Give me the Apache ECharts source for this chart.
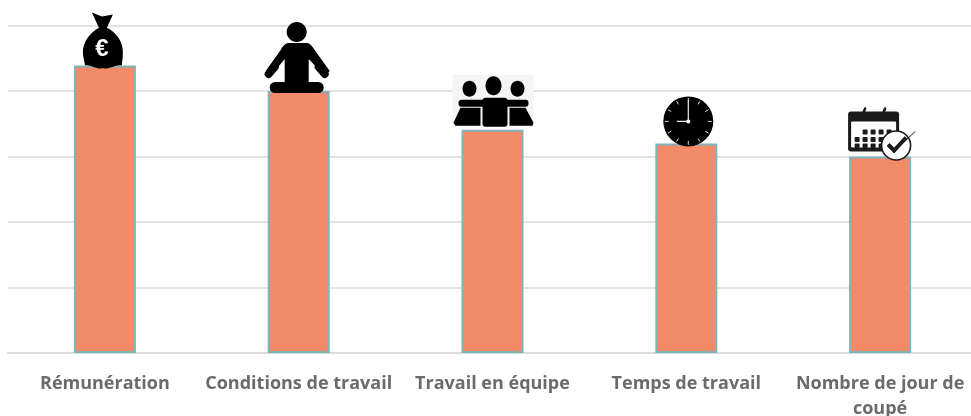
<!DOCTYPE html>
<html>
<head>
<meta charset="utf-8">
<style>
html, body { margin: 0; padding: 0; background: #fff; overflow: hidden; }
#main { width: 971px; height: 416px; }
</style>
<script src="https://cdn.jsdelivr.net/npm/echarts@6/dist/echarts.min.js"></script>
</head>
<body>
<div id="main"></div>
<script>
var categories = ['Rémunération', 'Conditions de travail', 'Travail en équipe', 'Temps de travail', 'Nombre de jour de\ncoupé'];
var values = [4.39, 4.0, 3.41, 3.2, 3.0];
var tickMax = 5;

var black = '#000';
var white = '#fff';

function path(d, x, y, w, h, fill) {
    return { type: 'path', shape: { pathData: d, x: x, y: y, width: w, height: h, layout: 'cover' }, style: { fill: fill || black } };
}
function ellipse(cx, cy, rx, ry) {
    return { type: 'ellipse', shape: { cx: cx, cy: cy, rx: rx, ry: ry }, style: { fill: black } };
}
function rect(x, y, w, h, r, fill) {
    return { type: 'rect', shape: { x: x, y: y, width: w, height: h, r: r }, style: { fill: fill || black } };
}
function line(x1, y1, x2, y2, color, width) {
    return { type: 'line', shape: { x1: x1, y1: y1, x2: x2, y2: y2 }, style: { stroke: color, lineWidth: width, lineCap: 'round' } };
}

// icons are drawn relative to the top centre of each bar
function bagIcon() {
    return [
        path('M-13,-53 L-3,-49 L8,-51 L2,-38 C12,-33 18,-24 18,-14 C18,-8 17,-4 17,-1 C10,-2 5,3 -2,2 C-9,3 -14,-2 -20,-1 C-20,-4 -22,-8 -22,-14 C-22,-24 -15,-33 -6,-38 Z', -22, -53, 40, 56),
        { type: 'text', style: { text: '€', x: -3, y: -16, fill: white, font: 'bold 24px "Liberation Sans"', align: 'center', verticalAlign: 'middle' } }
    ];
}
function personIcon() {
    return [
        ellipse(-2, -59, 10, 10),
        path('M-11,-48 L9,-48 C12,-47 14,-44 16,-41 L31,-20 L26,-15 L10,-32 L10,-6 L-14,-6 L-14,-32 L-28,-15 L-33,-20 L-18,-41 C-16,-45 -14,-47 -11,-48 Z', -33, -48, 64, 42),
        line(-30, -17, -24, -24, black, 8),
        line(26, -17, 20, -24, black, 8),
        rect(-29, -9, 54, 11, 5.5)
    ];
}
function teamIcon() {
    return [
        rect(-40, -55, 81, 52, 0, '#f5f5f5'),
        ellipse(-23, -41, 7, 8),
        ellipse(1, -44, 8, 9.5),
        ellipse(25, -41, 7, 8),
        rect(-10, -32, 25, 29, 3),
        rect(-34, -30, 70, 7, 3),
        { type: 'polygon', shape: { points: [[-32, -22], [-12, -22], [-12, -4], [-37, -4], [-39, -7]] }, style: { fill: black } },
        { type: 'polygon', shape: { points: [[33, -22], [17, -22], [17, -4], [40, -4], [41, -7]] }, style: { fill: black } }
    ];
}
function clockIcon() {
    var parts = [{ type: 'circle', shape: { cx: 2, cy: -22, r: 25 }, style: { fill: black } }];
    for (var i = 0; i < 12; i++) {
        var a = i * Math.PI / 6;
        parts.push(line(2 + Math.sin(a) * 20, -22 - Math.cos(a) * 20, 2 + Math.sin(a) * 23, -22 - Math.cos(a) * 23, '#ddd', 1));
    }
    parts.push(line(2, -22, 2, -43, '#eee', 1.2));
    parts.push(line(2, -22, -9, -22, '#eee', 1.2));
    parts.push({ type: 'circle', shape: { cx: 2, cy: -22, r: 2 }, style: { fill: white } });
    return parts;
}
function calendarIcon() {
    var parts = [
        rect(-32, -45, 51, 40, 3, '#1a1a1a'),
        rect(-29, -35, 45, 26, 1, white),
        line(-15, -48, -17, -43, '#1a1a1a', 2.5),
        line(5, -48, 3, -43, '#1a1a1a', 2.5)
    ];
    var rows = [[-24.5, [-15, -7, 1, 9]], [-17, [-23, -15, -7, 1, 9]], [-10.5, [-23, -15, -7, 1]]];
    rows.forEach(function (r) {
        r[1].forEach(function (x) {
            parts.push(rect(x - 2.5, r[0] - 2.5, 5, 5, 1, '#1a1a1a'));
        });
    });
    parts.push({ type: 'circle', shape: { cx: 16, cy: -11, r: 14.5 }, style: { fill: white, stroke: '#1a1a1a', lineWidth: 1.6 } });
    parts.push({ type: 'polyline', shape: { points: [[8, -12], [14, -5], [35, -25]] }, style: { fill: null, stroke: '#1a1a1a', lineWidth: 1 } });
    parts.push({ type: 'polyline', shape: { points: [[8, -12], [14, -6], [26, -19]] }, style: { fill: null, stroke: '#1a1a1a', lineWidth: 4 } });
    return parts;
}
var icons = [bagIcon, personIcon, teamIcon, clockIcon, calendarIcon];

var myChart = echarts.init(document.getElementById('main'), null, { renderer: 'canvas' });
var option = {
    animation: false,
    grid: { left: 8, top: 25.5, width: 969, height: 327.5, outerBoundsMode: 'none' },
    xAxis: {
        type: 'category',
        data: categories,
        axisTick: { show: false },
        axisLine: { lineStyle: { color: '#dcdcdc', width: 2 } },
        axisLabel: {
            interval: 0,
            margin: 18,
            lineHeight: 25,
            color: '#6b6b6b',
            fontFamily: 'Open Sans',
            fontWeight: 'bold',
            fontSize: 18
        }
    },
    yAxis: {
        type: 'value',
        min: 0,
        max: tickMax,
        interval: 1,
        axisLine: { show: false },
        axisTick: { show: false },
        axisLabel: { show: false },
        splitLine: { lineStyle: { color: '#e2e2e2', width: 2 } }
    },
    series: [
        {
            type: 'bar',
            data: values,
            barWidth: 62,
            itemStyle: { color: '#f38b69', borderColor: '#7fb4ba', borderWidth: 2 }
        },
        {
            type: 'custom',
            data: values.map(function (v, i) { return [i, v]; }),
            clip: false,
            z: 5,
            encode: { x: 0, y: 1 },
            renderItem: function (params, api) {
                var top = api.coord([api.value(0), api.value(1)]);
                return { type: 'group', x: top[0], y: top[1], children: icons[params.dataIndex]() };
            }
        }
    ]
};
myChart.setOption(option, true);
</script>
</body>
</html>
